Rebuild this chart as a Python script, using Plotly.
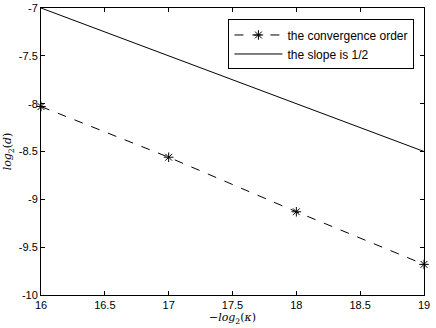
import plotly.graph_objects as go

# convergence data
kappa = [16, 17, 18, 19]
log_d = [-8.03, -8.56, -9.13, -9.68]

# reference line with slope 1/2
ref_x = [16, 19]
ref_y = [-7.0, -8.5]

x_ticks = [16, 16.5, 17, 17.5, 18, 18.5, 19]
y_ticks = [-10, -9.5, -9, -8.5, -8, -7.5, -7]

fig = go.Figure()

fig.add_trace(go.Scatter(
    name='the convergence order',
    x=kappa, y=log_d,
    mode='lines+markers',
    line=dict(color='black', width=1, dash='dash'),
    marker=dict(symbol='asterisk-open', size=8, color='black', line=dict(color='black', width=1)),
    cliponaxis=False,
))

fig.add_trace(go.Scatter(
    name='the slope is 1/2',
    x=ref_x, y=ref_y,
    mode='lines',
    line=dict(color='black', width=1),
))

axis_style = dict(
    showline=True, linecolor='black', linewidth=1, mirror='ticks',
    ticks='inside', ticklen=4, tickcolor='black', showgrid=False, zeroline=False,
    tickfont=dict(size=11, color='black'), automargin=False,
)

fig.update_xaxes(
    range=[16, 19], tickvals=x_ticks, ticktext=[f'{v:g}' for v in x_ticks],
    title=dict(text='\u2212<i>log</i><sub>2</sub>(<i>\u03ba</i>)', standoff=2,
               font=dict(size=11, color='black', family='DejaVu Serif')),
    **axis_style,
)
fig.update_yaxes(
    range=[-10, -7], tickvals=y_ticks, ticktext=[f'{v:g}' for v in y_ticks],
    title=dict(text='<i>log</i><sub>2</sub>(<i>d</i>)', standoff=4,
               font=dict(size=11, color='black', family='DejaVu Serif')),
    **axis_style,
)

fig.update_layout(
    width=436, height=328,
    margin=dict(l=41, r=12, t=8, b=33),
    paper_bgcolor='white', plot_bgcolor='white',
    font=dict(family='Liberation Sans, Arial, sans-serif', size=11, color='black'),
    showlegend=True,
    legend=dict(
        x=0.975, y=0.96, xanchor='right', yanchor='top',
        bgcolor='white', bordercolor='black', borderwidth=1,
        font=dict(size=12), tracegroupgap=0, itemwidth=48,
    ),
)

fig.write_html("out.html", config={'displayModeBar': False},
               post_script="document.body.style.margin='0';")
